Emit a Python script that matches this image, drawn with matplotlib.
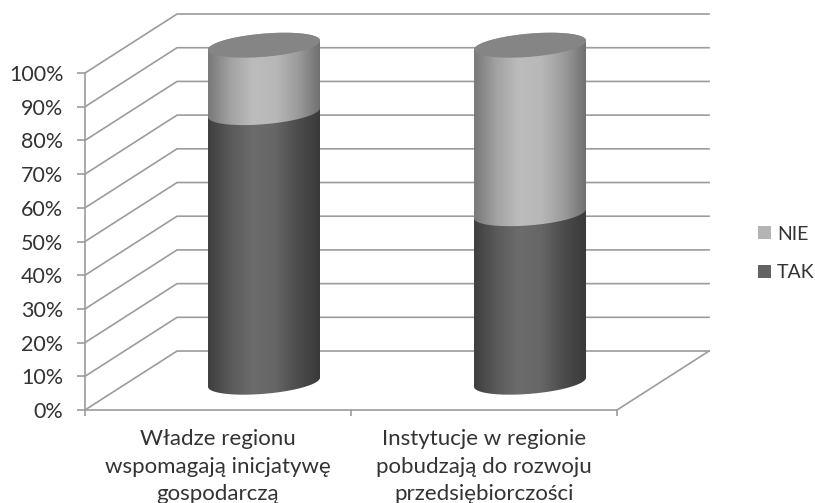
import numpy as np
import matplotlib
matplotlib.use('Agg')
import matplotlib.pyplot as plt
from matplotlib.colors import LinearSegmentedColormap
from matplotlib.patches import Patch, PathPatch, Polygon
from matplotlib.path import Path

# Stacked 3D-looking cylinders, shares of answers per question
categories = ['Władze regionu\nwspomagają inicjatywę\ngospodarczą',
              'Instytucje w regionie\npobudzają do rozwoju\nprzedsiębiorczości']
tak = [80, 50]
nie = [20, 50]
y_ticks = [0, 10, 20, 30, 40, 50, 60, 70, 80, 90, 100]
y_labels = ['0%', '10%', '20%', '30%', '40%', '50%', '60%', '70%', '80%', '90%', '100%']

plt.rcParams['font.family'] = ['Lato', 'DejaVu Sans']

W, H = 815, 503
GRID = '#9c9c9c'
TEXT = '#333333'
DEPTH_X = 0.346   # depth of the floor, in category units
DEPTH_Y = 17.5    # same, in percent
HALF_W = 0.2105
ELL_B = 3.45
ELL_S = 1.35

tak_cmap = LinearSegmentedColormap.from_list('tak', ['#3e3e3e', '#5a5a5a', '#6c6c6c', '#666666', '#4c4c4c', '#3a3a3a'])
nie_cmap = LinearSegmentedColormap.from_list('nie', ['#787878', '#a2a2a2', '#bcbcbc', '#b8b8b8', '#9c9c9c', '#707070'])


def ellipse(cx, cy, t):
    return cx + HALF_W*np.cos(t), cy + ELL_S*np.cos(t) + ELL_B*np.sin(t)


def draw_segment(ax, cx, y0, y1, cmap):
    # Front arc of the lower edge, then back arc of the upper edge
    xb, yb = ellipse(cx, y0, np.linspace(np.pi, 2*np.pi, 60))
    xt, yt = ellipse(cx, y1, np.linspace(0, np.pi, 60))
    verts = np.column_stack([np.r_[xb, xt], np.r_[yb, yt]])
    clip = PathPatch(Path(verts), transform=ax.transData, fc='none', ec='none')
    ax.add_patch(clip)
    grad = np.linspace(0, 1, 256).reshape(1, -1)
    im = ax.imshow(grad, cmap=cmap, aspect='auto', zorder=3, interpolation='bilinear',
                   extent=[cx-HALF_W, cx+HALF_W, y0-8, y1+8])
    im.set_clip_path(clip)
    im.set_clip_box(fig.bbox)  # the top of the cylinders sticks out of the axes


fig = plt.figure(figsize=(W/100, H/100), dpi=100)
ax = fig.add_axes([85/W, 1-410/H, 532/W, 337/H])

# Walls and floor
x_l, x_r = -0.5, 1.5
for v in y_ticks:
    ax.plot([x_l, x_l+DEPTH_X, x_r+DEPTH_X], [v, v+DEPTH_Y, v+DEPTH_Y],
            color=GRID, lw=1.2, clip_on=False, zorder=1)
ax.plot([x_r, x_r+DEPTH_X], [0, DEPTH_Y], color=GRID, lw=1.2, clip_on=False, zorder=1)

# Cylinders
for i in range(len(categories)):
    cx = i + DEPTH_X/2
    base = DEPTH_Y/2 - 0.5
    draw_segment(ax, cx, base, base+tak[i], tak_cmap)
    draw_segment(ax, cx, base+tak[i], base+tak[i]+nie[i], nie_cmap)
    xe, ye = ellipse(cx, base+tak[i]+nie[i], np.linspace(0, 2*np.pi, 120))
    ax.add_patch(Polygon(np.column_stack([xe, ye]), closed=True, fc='#858585', ec='none', zorder=4, clip_on=False))

ax.set_xlim(x_l, x_r)
ax.set_ylim(0, 100)
ax.patch.set_alpha(0)
for s in ['top', 'right']:
    ax.spines[s].set_visible(False)
for s in ['left', 'bottom']:
    ax.spines[s].set_color(GRID)
    ax.spines[s].set_linewidth(1.2)

ax.set_yticks(y_ticks)
ax.set_yticklabels(y_labels, fontsize=15.5, color=TEXT)
ax.tick_params(axis='y', length=5.5, width=1.2, color=GRID, pad=10)
ax.set_xticks([-0.5, 0.5, 1.5])
ax.set_xticklabels([])
ax.tick_params(axis='x', length=4, width=1.2, color=GRID)
ax.set_xticks([0, 1], minor=True)
ax.set_xticklabels(categories, minor=True, fontsize=16, color=TEXT, linespacing=1.45)
ax.tick_params(axis='x', which='minor', length=0, pad=14)

handles = [Patch(fc='#b4b4b4', ec='none', label='NIE'), Patch(fc='#636363', ec='none', label='TAK')]
fig.legend(handles=handles, loc='center left', bbox_to_anchor=(740.5/W, 1-253.5/H), frameon=False,
           fontsize=14, handlelength=0.67, handleheight=0.67, handletextpad=0.3,
           labelspacing=1.12, labelcolor=TEXT)

fig.savefig('out.png', dpi=100)
